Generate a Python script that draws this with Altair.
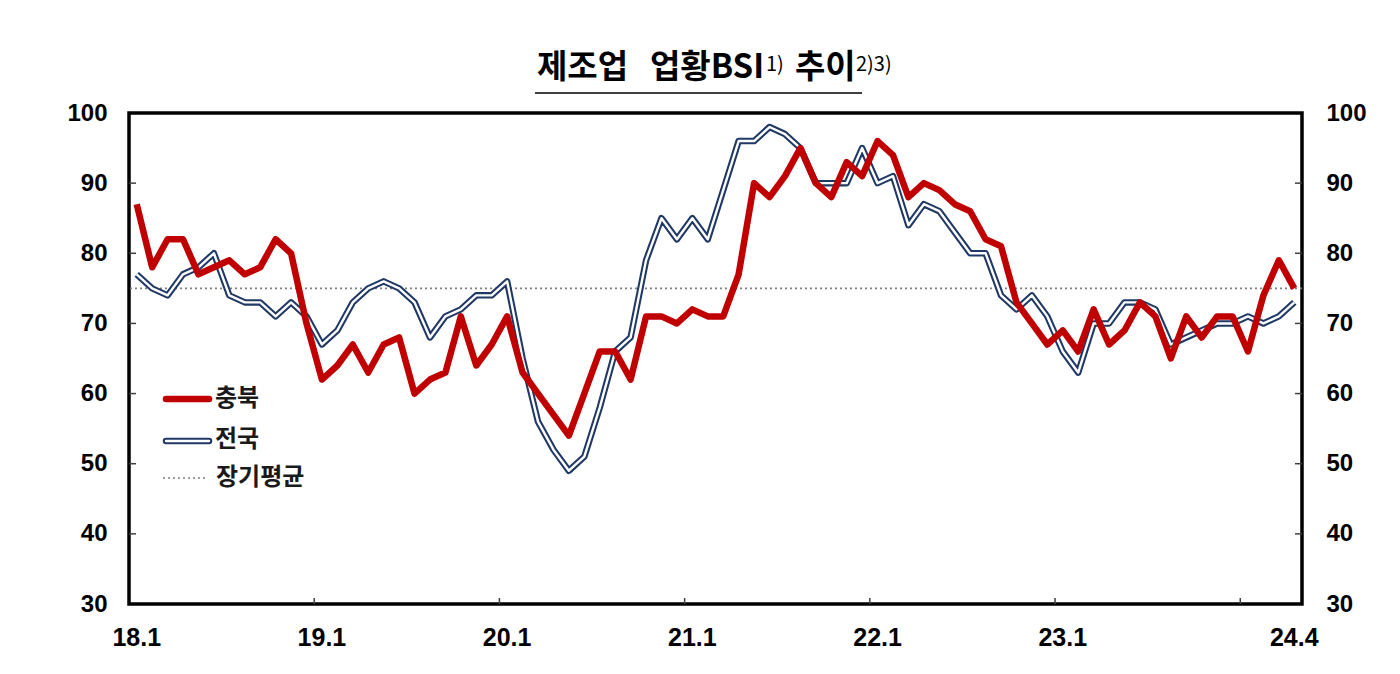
import altair as alt
import pandas as pd

# ---- data (2018.1 ~ 2024.4, monthly) ----
chungbuk = [87, 78, 82, 82, 77, 78, 79, 77, 78, 82, 80, 70,
            62, 64, 67, 63, 67, 68, 60, 62, 63, 71, 64, 67,
            71, 63, 60, 57, 54, 60, 66, 66, 62, 71, 71, 70,
            72, 71, 71, 77, 90, 88, 91, 95, 90, 88, 93, 91,
            96, 94, 88, 90, 89, 87, 86, 82, 81, 73, 70, 67,
            69, 66, 72, 67, 69, 73, 71, 65, 71, 68, 71, 71,
            66, 74, 79, 75]
national = [77, 75, 74, 77, 78, 80, 74, 73, 73, 71, 73, 71,
            67, 69, 73, 75, 76, 75, 73, 68, 71, 72, 74, 74,
            76, 65, 56, 52, 49, 51, 58, 66, 68, 79, 85, 82,
            85, 82, 89, 96, 96, 98, 97, 95, 90, 90, 90, 95,
            90, 91, 84, 87, 86, 83, 80, 80, 74, 72, 74, 71,
            66, 63, 70, 70, 73, 73, 72, 67, 68, 69, 70, 70,
            71, 70, 71, 73]
long_avg = 75
x_label_text = ["18.1", "19.1", "20.1", "21.1", "22.1", "23.1", "24.4"]
x_label_idx = [0, 12, 24, 36, 48, 60, 75]
x_tick_idx = [11.5, 23.5, 35.5, 47.5, 59.5, 71.5]
y_values = [30, 40, 50, 60, 70, 80, 90, 100]
y_inner_ticks = [40, 50, 60, 70, 80, 90]

df = pd.DataFrame({"idx": list(range(len(chungbuk))),
                   "chungbuk": chungbuk, "national": national})
df_xl = pd.DataFrame({"idx": x_label_idx, "lab": x_label_text})
df_xt = pd.DataFrame({"t": x_tick_idx})
df_yt = pd.DataFrame({"v": y_inner_ticks})
df_avg = pd.DataFrame({"avg": [long_avg]})
one = pd.DataFrame({"a": [0]})

W, H = 1173, 491
NUM_FONT = "Liberation Sans, Arial, sans-serif"
KR_FONT = "Noto Sans CJK KR"

xscale = alt.Scale(domain=[-0.5, 75.5], nice=False, zero=False)
yscale = alt.Scale(domain=[30, 100], nice=False, zero=False)

x_enc = alt.X("idx:Q", scale=xscale, axis=None)

left_axis = alt.Axis(values=y_values, ticks=False, domain=False, grid=False, title=None,
                     labelFont=NUM_FONT, labelFontSize=24, labelFontWeight="bold",
                     labelColor="black", labelPadding=22, orient="left")
right_axis = alt.Axis(values=y_values, ticks=False, domain=False, grid=False, title=None,
                      labelFont=NUM_FONT, labelFontSize=24, labelFontWeight="bold",
                      labelColor="black", labelPadding=24, orient="right")

base = alt.Chart(df)

avg_line = alt.Chart(df_avg).mark_rule(color="#7F7F7F", strokeWidth=1.6, strokeDash=[2, 3]).encode(
    y=alt.Y("avg:Q", scale=yscale, axis=right_axis))

nat_outer = base.mark_line(color="#1F3864", strokeWidth=6.5, strokeJoin="round").encode(
    x=x_enc, y=alt.Y("national:Q", scale=yscale, axis=left_axis))
nat_inner = base.mark_line(color="white", strokeWidth=2.4, strokeJoin="round").encode(
    x=x_enc, y=alt.Y("national:Q", scale=yscale, axis=None))
cb_line = base.mark_line(color="#C00000", strokeWidth=6.5, strokeJoin="round").encode(
    x=x_enc, y=alt.Y("chungbuk:Q", scale=yscale, axis=None))

x_labels = alt.Chart(df_xl).mark_text(font=NUM_FONT, fontSize=25, fontWeight="bold",
                                      color="black", baseline="middle", align="center").encode(
    x=alt.X("idx:Q", scale=xscale, axis=None), y=alt.value(H + 34), text="lab:N")
x_ticks = alt.Chart(df_xt).mark_rule(color="#404040", strokeWidth=1.5).encode(
    x=alt.X("t:Q", scale=xscale, axis=None), y=alt.value(H - 6), y2=alt.value(H))
y_ticks_l = alt.Chart(df_yt).mark_rule(color="#404040", strokeWidth=1.5).encode(
    y=alt.Y("v:Q", scale=yscale, axis=None), x=alt.value(0), x2=alt.value(7))
y_ticks_r = alt.Chart(df_yt).mark_rule(color="#404040", strokeWidth=1.5).encode(
    y=alt.Y("v:Q", scale=yscale, axis=None), x=alt.value(W - 7), x2=alt.value(W))

# ---- legend (inside plot) ----
leg = alt.Chart(one)
leg_red = leg.mark_rule(color="#C00000", strokeWidth=6.5, strokeCap="round").encode(
    x=alt.value(37), x2=alt.value(80), y=alt.value(286))
leg_nat_o = leg.mark_rule(color="#1F3864", strokeWidth=6.5, strokeCap="round").encode(
    x=alt.value(37), x2=alt.value(80), y=alt.value(328))
leg_nat_i = leg.mark_rule(color="white", strokeWidth=2.4, strokeCap="round").encode(
    x=alt.value(37), x2=alt.value(80), y=alt.value(328))
leg_avg = leg.mark_rule(color="#7F7F7F", strokeWidth=1.6, strokeDash=[2, 3]).encode(
    x=alt.value(34), x2=alt.value(78), y=alt.value(365))
leg_t1 = leg.mark_text(text="충북", font=KR_FONT, fontSize=24, fontWeight="bold", align="left",
                       baseline="middle", color="#1a1a1a").encode(x=alt.value(86), y=alt.value(286))
leg_t2 = leg.mark_text(text="전국", font=KR_FONT, fontSize=24, fontWeight="bold", align="left",
                       baseline="middle", color="#1a1a1a").encode(x=alt.value(86), y=alt.value(327))
leg_t3 = leg.mark_text(text="장기평균", font=KR_FONT, fontSize=24, fontWeight="bold", align="left",
                       baseline="middle", color="#1a1a1a").encode(x=alt.value(87), y=alt.value(365))

# ---- title (above the plot) ----
t1 = leg.mark_text(text="제조업", font=KR_FONT, fontSize=33, fontWeight="bold", align="left",
                   baseline="alphabetic", color="black").encode(x=alt.value(408), y=alt.value(-35))
t2 = leg.mark_text(text="업황BSI", font=KR_FONT, fontSize=33, fontWeight="bold", align="left",
                   baseline="alphabetic", color="black").encode(x=alt.value(521), y=alt.value(-35))
t3 = leg.mark_text(text="1)", font=KR_FONT, fontSize=20, align="left",
                   baseline="alphabetic", color="black").encode(x=alt.value(637), y=alt.value(-42))
t4 = leg.mark_text(text="추이", font=KR_FONT, fontSize=33, fontWeight="bold", align="left",
                   baseline="alphabetic", color="black").encode(x=alt.value(666), y=alt.value(-35))
t5 = leg.mark_text(text="2)3)", font=KR_FONT, fontSize=20, align="left",
                   baseline="alphabetic", color="black").encode(x=alt.value(727), y=alt.value(-42))
underline = leg.mark_rule(color="#404040", strokeWidth=2).encode(
    x=alt.value(406), x2=alt.value(733), y=alt.value(-20))

chart = alt.layer(
    avg_line, nat_outer, nat_inner, cb_line, x_labels, x_ticks, y_ticks_l, y_ticks_r,
    leg_red, leg_nat_o, leg_nat_i, leg_avg, leg_t1, leg_t2, leg_t3,
    t1, t2, t3, t4, t5, underline
).resolve_scale(y="independent").properties(
    width=W, height=H,
    autosize=alt.AutoSizeParams(type="none"),
    padding={"left": 129, "top": 113, "right": 98, "bottom": 70},
    background="white"
).configure_view(stroke="black", strokeWidth=3.5)

chart.save("out.html", embed_options={"renderer": "svg", "actions": False})
